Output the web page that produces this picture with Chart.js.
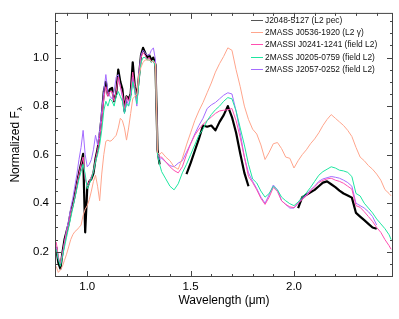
<!DOCTYPE html>
<html>
<head>
<meta charset="utf-8">
<script src="https://cdn.jsdelivr.net/npm/chart.js@4.4.1/dist/chart.umd.min.js"></script>
<style>
    html, body { margin: 0; padding: 0; background: #fff; }
    #wrap { width: 399px; height: 319px; }
</style>
</head>
<body>
<div id="wrap"><canvas id="spec"></canvas></div>
<script>
// Wavelength grid (micron)
const wave = [
    0.85,0.86,0.87,0.88,0.89,0.90,0.91,0.92,0.93,0.94,
    0.95,0.96,0.97,0.98,0.99,1.00,1.01,1.02,1.03,1.04,
    1.05,1.06,1.07,1.08,1.09,1.10,1.11,1.12,1.13,1.14,
    1.15,1.16,1.17,1.18,1.19,1.20,1.21,1.22,1.23,1.24,
    1.25,1.26,1.27,1.28,1.29,1.30,1.31,1.32,1.33,1.34,
    1.35,1.36,1.38,1.40,1.42,1.44,1.46,1.48,1.50,1.52,
    1.54,1.56,1.58,1.60,1.62,1.64,1.66,1.68,1.70,1.72,
    1.74,1.76,1.78,1.80,1.82,1.84,1.86,1.88,1.90,1.92,
    1.94,1.96,1.98,2.00,2.02,2.04,2.06,2.08,2.10,2.12,
    2.14,2.16,2.18,2.20,2.22,2.24,2.26,2.28,2.30,2.32,
    2.34,2.36,2.38,2.40,2.42,2.44,2.46,2.47
];

// J2048-5127 (L2 pec) - gaps where telluric bands were cut
const j2048 = [
    0.22,0.155,0.13,0.195,0.25,0.283,0.315,0.363,0.395,0.435,
    0.483,0.523,0.563,0.603,0.28,0.463,0.49,0.50,0.523,0.583,
    0.623,0.68,0.76,0.86,0.90,0.845,0.87,0.875,0.82,0.85,
    0.95,0.90,0.87,0.78,0.84,0.83,0.85,0.98,0.88,0.84,
    0.92,1.01,1.04,1.02,1.00,1.01,0.99,1.00,0.97,0.62,
    0.56,null,null,null,null,null,null,0.52,0.565,0.615,
    0.665,0.72,0.715,0.72,0.70,0.735,0.763,0.80,0.755,0.69,
    0.605,0.525,0.47,null,null,null,null,null,null,null,
    null,null,null,null,0.38,0.425,0.435,0.445,0.455,0.47,
    0.485,0.49,0.478,0.466,0.452,0.44,0.432,0.423,0.36,0.345,
    0.33,0.315,0.30,0.295,null,null,null,null
];

// 2MASS J0536-1920 (L2 gamma)
const j0536 = [
    0.14,0.115,0.125,0.14,0.165,0.19,0.22,0.25,0.27,0.283,
    0.29,0.30,0.31,0.35,0.375,0.39,0.415,0.45,0.49,0.515,
    0.47,0.41,0.52,0.60,0.655,0.66,0.655,0.66,0.67,0.68,
    0.71,0.75,0.74,0.71,0.66,0.71,0.77,0.83,0.84,0.85,
    0.93,0.96,0.98,0.99,0.99,0.99,0.985,0.985,0.975,0.61,
    0.60,0.61,0.59,0.575,0.55,0.54,0.585,0.64,0.69,0.74,
    0.78,0.815,0.855,0.895,0.94,0.975,1.005,1.04,1.03,0.95,
    0.88,0.80,0.745,0.705,0.685,0.64,0.58,0.61,0.645,0.65,
    0.625,0.59,0.585,0.545,0.575,0.60,0.62,0.645,0.665,0.69,
    0.72,0.745,0.765,0.75,0.735,0.72,0.70,0.675,0.63,0.59,
    0.575,0.555,0.54,0.52,0.495,0.456,0.44,0.43
];

// 2MASSI J0241-1241 (field L2)
const j0241 = [
    0.24,0.18,0.15,0.19,0.24,0.28,0.31,0.36,0.39,0.43,
    0.48,0.52,0.56,0.59,0.50,0.47,0.49,0.51,0.53,0.58,
    0.62,0.67,0.74,0.83,0.88,0.84,0.86,0.86,0.82,0.86,
    0.92,0.88,0.85,0.79,0.84,0.82,0.85,0.94,0.88,0.83,
    0.92,1.00,1.02,1.01,0.99,1.00,0.98,0.99,0.97,0.60,
    0.59,0.59,0.57,0.55,0.535,0.525,0.55,0.60,0.645,0.68,
    0.705,0.725,0.74,0.755,0.77,0.78,0.783,0.785,0.79,0.74,
    0.67,0.59,0.51,0.485,0.455,0.42,0.395,0.425,0.465,0.448,
    0.41,0.395,0.385,0.382,0.40,0.415,0.43,0.45,0.468,0.485,
    0.494,0.50,0.503,0.495,0.49,0.482,0.47,0.458,0.39,0.383,
    0.365,0.345,0.325,0.30,0.28,0.25,0.225,0.21
];

// 2MASS J0205-0759 (field L2)
const j0205 = [
    0.21,0.17,0.14,0.18,0.22,0.26,0.30,0.34,0.38,0.42,
    0.46,0.50,0.53,0.56,0.52,0.46,0.48,0.50,0.53,0.57,
    0.60,0.64,0.70,0.78,0.82,0.80,0.83,0.82,0.80,0.84,
    0.86,0.84,0.82,0.77,0.81,0.80,0.83,0.90,0.86,0.81,
    0.90,0.98,1.00,1.00,0.99,0.99,0.98,0.99,0.96,0.60,
    0.56,0.53,0.50,0.47,0.455,0.48,0.525,0.56,0.60,0.64,
    0.68,0.705,0.74,0.765,0.785,0.80,0.82,0.835,0.83,0.78,
    0.71,0.64,0.56,0.50,0.483,0.45,0.425,0.44,0.47,0.455,
    0.425,0.41,0.398,0.39,0.405,0.425,0.443,0.465,0.49,0.515,
    0.53,0.54,0.55,0.545,0.536,0.533,0.527,0.51,0.44,0.43,
    0.40,0.38,0.36,0.335,0.315,0.295,0.27,0.25
];

// 2MASS J2057-0252 (field L2)
const j2057 = [
    0.22,0.17,0.15,0.19,0.24,0.29,0.33,0.38,0.42,0.47,
    0.52,0.58,0.63,0.70,0.60,0.55,0.56,0.58,0.62,0.68,
    0.64,0.70,0.78,0.86,0.93,0.86,0.84,0.83,0.86,0.92,
    0.93,0.88,0.84,0.77,0.83,0.80,0.85,0.92,0.86,0.80,
    0.94,1.01,1.03,1.02,1.01,1.01,1.03,1.04,0.99,0.61,
    0.58,0.585,0.57,0.555,0.55,0.565,0.575,0.61,0.645,0.685,
    0.72,0.75,0.79,0.805,0.815,0.83,0.845,0.855,0.85,0.78,
    0.69,0.59,0.525,0.49,0.46,0.425,0.40,0.435,0.475,0.455,
    0.41,0.395,0.38,0.38,0.40,0.42,0.435,0.455,0.47,0.49,
    0.50,0.505,0.51,0.507,0.503,0.495,0.485,0.47,0.40,0.39,
    0.38,0.365,0.345,0.31,null,null,null,null
];

// Tick positions
const xMajor = [1.0, 1.5, 2.0];
const xMinor = [0.9, 1.1, 1.2, 1.3, 1.4, 1.6, 1.7, 1.8, 1.9, 2.1, 2.2, 2.3, 2.4];
const yMajor = [0.2, 0.4, 0.6, 0.8, 1.0];
const yMinor = [0.1, 0.15, 0.25, 0.3, 0.35, 0.45, 0.5, 0.55, 0.65, 0.7, 0.75, 0.85, 0.9, 0.95, 1.05, 1.1, 1.15];

const FONT = "'Liberation Sans', Arial, Helvetica, sans-serif";

function pts(vals) {
    return wave.map((w, i) => ({ x: w, y: vals[i] }));
}

// drawing order: black last so it sits on top
const datasets = [
    { label: '2MASS J0536-1920 (L2 \u03b3)', data: pts(j0536), borderColor: '#ffa58c', borderWidth: 1 },
    { label: '2MASS J0205-0759 (field L2)', data: pts(j0205), borderColor: '#1ee6a0', borderWidth: 1 },
    { label: '2MASSI J0241-1241 (field L2)', data: pts(j0241), borderColor: '#ff4fb0', borderWidth: 1 },
    { label: '2MASS J2057-0252 (field L2)', data: pts(j2057), borderColor: '#a46cff', borderWidth: 1 },
    { label: 'J2048-5127 (L2 pec)', data: pts(j2048), borderColor: '#000000', borderWidth: 2.2 }
];
const legendOrder = [4, 0, 2, 1, 3];

// frame, inward ticks on all sides, axis titles and legend
const decorPlugin = {
    id: 'decor',
    afterDatasetsDraw(chart) {
        const { ctx, chartArea: a, scales } = chart;
        const sx = scales.x, sy = scales.y;
        ctx.save();
        ctx.strokeStyle = '#444';
        ctx.lineWidth = 1;
        ctx.strokeRect(a.left + 0.5, a.top + 0.5, a.right - a.left - 1, a.bottom - a.top - 1);

        const tickX = (v, len) => {
            const p = Math.round(sx.getPixelForValue(v)) + 0.5;
            ctx.beginPath();
            ctx.moveTo(p, a.bottom); ctx.lineTo(p, a.bottom - len);
            ctx.moveTo(p, a.top); ctx.lineTo(p, a.top + len);
            ctx.stroke();
        };
        const tickY = (v, len) => {
            const p = Math.round(sy.getPixelForValue(v)) + 0.5;
            ctx.beginPath();
            ctx.moveTo(a.left, p); ctx.lineTo(a.left + len, p);
            ctx.moveTo(a.right, p); ctx.lineTo(a.right - len, p);
            ctx.stroke();
        };
        xMajor.forEach(v => tickX(v, 6));
        xMinor.forEach(v => tickX(v, 3));
        yMajor.forEach(v => tickY(v, 6));
        yMinor.forEach(v => tickY(v, 3));

        // x title
        ctx.fillStyle = '#000';
        ctx.font = '12px ' + FONT;
        ctx.textAlign = 'center';
        ctx.textBaseline = 'middle';
        ctx.fillText('Wavelength (\u03bcm)', (a.left + a.right) / 2, 301);

        // y title with subscript lambda
        ctx.save();
        ctx.translate(15, (a.top + a.bottom) / 2);
        ctx.rotate(-Math.PI / 2);
        const main = 'Normalized F';
        ctx.font = '12px ' + FONT;
        const w1 = ctx.measureText(main).width;
        ctx.font = '8px ' + FONT;
        const w2 = ctx.measureText('\u03bb').width;
        const start = -(w1 + w2) / 2;
        ctx.textAlign = 'left';
        ctx.textBaseline = 'alphabetic';
        ctx.font = '12px ' + FONT;
        ctx.fillText(main, start, 4);
        ctx.font = '8px ' + FONT;
        ctx.fillText('\u03bb', start + w1 + 0.5, 7);
        ctx.restore();

        // legend
        ctx.font = '8.4px ' + FONT;
        ctx.textAlign = 'left';
        ctx.textBaseline = 'middle';
        legendOrder.forEach((di, i) => {
            const ds = chart.data.datasets[di];
            const yy = Math.round(19.5 + i * 12.4) + 0.5;
            ctx.strokeStyle = ds.borderColor === '#000000' ? '#555' : ds.borderColor;
            ctx.lineWidth = 1;
            ctx.beginPath();
            ctx.moveTo(251, yy); ctx.lineTo(263, yy);
            ctx.stroke();
            ctx.fillStyle = '#111';
            ctx.fillText(ds.label, 265, yy);
        });
        ctx.restore();
    }
};

const ctx = document.getElementById('spec').getContext('2d');
const chart = new Chart(ctx, {
    type: 'line',
    data: { datasets: datasets },
    options: {
        responsive: true,
        maintainAspectRatio: false,
        animation: false,
        devicePixelRatio: 1,
        layout: { padding: { top: 5, right: 6, left: 0, bottom: 0 } },
        elements: { point: { radius: 0 }, line: { tension: 0, borderJoinStyle: 'round' } },
        plugins: { legend: { display: false }, tooltip: { enabled: false } },
        scales: {
            x: {
                type: 'linear',
                min: 0.844,
                max: 2.479,
                grid: { display: false, drawTicks: false },
                border: { display: false },
                afterBuildTicks: s => { s.ticks = xMajor.map(v => ({ value: v })); },
                afterFit: s => { s.height = 42; },
                ticks: {
                    callback: v => v.toFixed(1),
                    color: '#000',
                    font: { family: FONT, size: 11.5 },
                    padding: 3,
                    maxRotation: 0,
                    autoSkip: false
                }
            },
            y: {
                min: 0.096,
                max: 1.184,
                grid: { display: false, drawTicks: false },
                border: { display: false },
                afterBuildTicks: s => { s.ticks = yMajor.map(v => ({ value: v })); },
                afterFit: s => { s.width = 55; },
                ticks: {
                    callback: v => v.toFixed(1),
                    color: '#000',
                    font: { family: FONT, size: 11.5 },
                    padding: 6
                }
            }
        }
    },
    plugins: [decorPlugin]
});
</script>
</body>
</html>
